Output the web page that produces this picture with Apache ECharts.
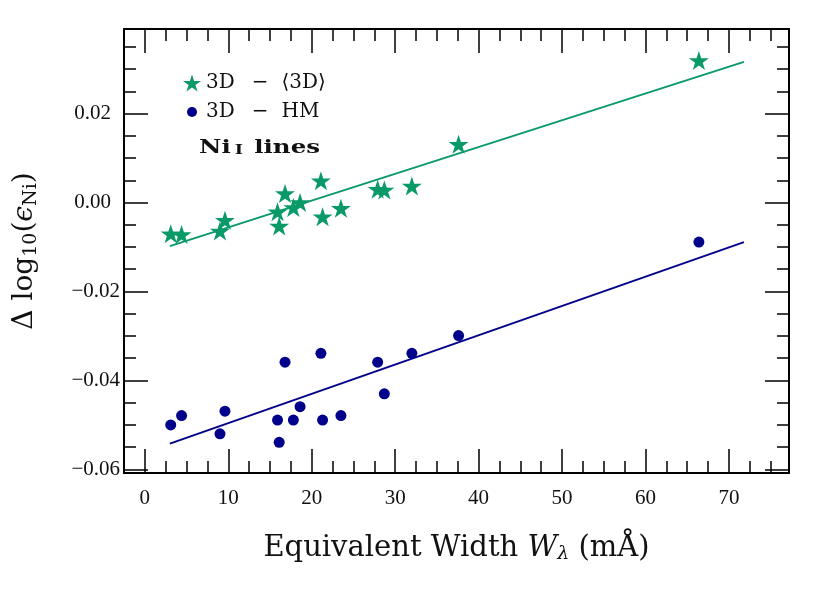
<!DOCTYPE html>
<html>
<head>
<meta charset="utf-8">
<script src="https://cdn.jsdelivr.net/npm/echarts@6/dist/echarts.min.js"></script>
<style>
  html, body { margin: 0; padding: 0; background: #fff; }
  #chart { width: 830px; height: 593px; }
</style>
</head>
<body>
<div id="chart"></div>
<script>
// equivalent width of each Ni I line (mA)
const ew = [3.1, 4.4, 9.0, 9.6, 15.9, 16.1, 16.8, 17.8, 18.6, 21.1, 21.3, 23.5, 27.9, 28.7, 32.0, 37.6, 66.4];
// 3D - <3D>
const dMean = [-0.0070, -0.0072, -0.0064, -0.0040, -0.0021, -0.0053, 0.0020, -0.0011, 0.0000, 0.0049, -0.0032, -0.0013, 0.0030, 0.0028, 0.0037, 0.0131, 0.0319];
// 3D - HM
const dHM = [-0.0500, -0.0479, -0.0520, -0.0469, -0.0489, -0.0539, -0.0359, -0.0489, -0.0459, -0.0339, -0.0489, -0.0479, -0.0359, -0.0430, -0.0339, -0.0299, -0.0089];
// linear fits (end points)
const fitX = [3.0, 71.8];
const fitMean = [-0.0098, 0.0316];
const fitHM = [-0.0542, -0.0089];

const xMajor = [0, 10, 20, 30, 40, 50, 60, 70];
const xMinor = [2.5, 5, 7.5, 12.5, 15, 17.5, 22.5, 25, 27.5, 32.5, 35, 37.5, 42.5, 45, 47.5, 52.5, 55, 57.5, 62.5, 65, 67.5, 72.5, 75];
const yMajor = [-0.06, -0.04, -0.02, 0, 0.02];
const yMinor = [-0.055, -0.05, -0.045, -0.035, -0.03, -0.025, -0.015, -0.01, -0.005, 0.005, 0.01, 0.015, 0.025, 0.03, 0.035];

const nameMean = '3D \u2212 \u27e83D\u27e9';
const nameHM = '3D \u2212 HM';

const green = '#0a9a68';
const blue = '#00008b';
const serif = '"Liberation Serif", serif';
const wide = '"DejaVu Serif", serif';
const star = 'path://M0,-1L0.2245,-0.309L0.9511,-0.309L0.3633,0.118L0.5878,0.809L0,0.382L-0.5878,0.809L-0.3633,0.118L-0.9511,-0.309L-0.2245,-0.309Z';

const zip = (xs, ys) => xs.map((x, i) => [x, ys[i]]);

function xAx(pos, ticks, len, line, labels) {
  return {
    type: 'value', position: pos, min: -2.5, max: 77.2,
    axisLine: { show: line, onZero: false, lineStyle: { color: '#000', width: 2 } },
    axisTick: { show: true, inside: true, length: len, customValues: ticks, lineStyle: { color: '#000', width: 1.5 } },
    axisLabel: labels ? {
      customValues: xMajor, margin: 15, color: '#111', fontFamily: serif, fontSize: 21
    } : { show: false },
    splitLine: { show: false }
  };
}
function yAx(pos, ticks, len, line, labels) {
  return {
    type: 'value', position: pos, min: -0.0608, max: 0.039,
    axisLine: { show: line, onZero: false, lineStyle: { color: '#000', width: 2 } },
    axisTick: { show: true, inside: true, length: len, customValues: ticks, lineStyle: { color: '#000', width: 1.5 } },
    axisLabel: labels ? {
      customValues: yMajor, margin: 4, color: '#111', fontFamily: serif, fontSize: 21,
      formatter: v => {
        const s = Math.abs(v).toFixed(2);
        return v < -1e-9 ? '\u2212' + s : '{p|' + s + '}';
      },
      rich: { p: { padding: [0, 9, 0, 0], fontFamily: serif, fontSize: 21, color: '#111' } }
    } : { show: false },
    splitLine: { show: false }
  };
}

const xAxes = [
  xAx('bottom', xMajor, 24, true, true),
  xAx('bottom', xMinor, 12, false, false),
  xAx('top', xMajor, 24, true, false),
  xAx('top', xMinor, 12, false, false)
];
xAxes[0].name = '{t|Equivalent Width }{i|W}{s|\u03bb}{t| (m\u00c5)}';
xAxes[0].nameLocation = 'middle';
xAxes[0].nameGap = 59;
xAxes[0].nameTextStyle = {
  rich: {
    t: { fontFamily: wide, fontSize: 29, color: '#111' },
    i: { fontFamily: wide, fontSize: 29, fontStyle: 'italic', color: '#111' },
    s: { fontFamily: wide, fontSize: 19, fontStyle: 'italic', color: '#111', padding: [13, 0, 0, 0] }
  }
};

const yAxes = [
  yAx('left', yMajor, 24, true, true),
  yAx('left', yMinor, 12, false, false),
  yAx('right', yMajor, 24, true, false),
  yAx('right', yMinor, 12, false, false)
];
yAxes[0].name = '{t|\u0394 log}{s|10}{t|(}{i|\u03f5}{s|Ni}{t|)}';
yAxes[0].nameLocation = 'middle';
yAxes[0].nameRotate = 90;
yAxes[0].nameGap = 83;
yAxes[0].nameTextStyle = {
  rich: {
    t: { fontFamily: wide, fontSize: 28, color: '#111' },
    i: { fontFamily: wide, fontSize: 28, fontStyle: 'italic', color: '#111' },
    s: { fontFamily: wide, fontSize: 19, color: '#111', padding: [13, 0, 0, 0] }
  }
};

function legendText(lead) {
  return {
    fontFamily: wide, fontSize: 20, color: '#111', lineHeight: 20,
    rich: {
      f: { fontFamily: wide, fontSize: 20, color: '#111', padding: [0, 0, 0, lead] },
      a: { fontFamily: wide, fontSize: 20, color: '#111' },
      m: { fontFamily: wide, fontSize: 20, color: '#111', padding: [0, 13, 0, 17] }
    }
  };
}
const legendFmt = name => {
  const parts = name.split(' \u2212 ');
  return '{f|' + parts[0] + '}{m|\u2212}{a|' + parts[1] + '}';
};

const chart = echarts.init(document.getElementById('chart'), null, { renderer: 'canvas' });
chart.setOption({
  animation: false,
  backgroundColor: '#fff',
  grid: { left: 124, top: 29, width: 665, height: 444, containLabel: false, outerBoundsMode: 'none' },
  graphic: [{
    type: 'text', x: 199, y: 148, scaleX: 1.36,
    style: {
      text: '{b|Ni}{c|I}{b| lines}',
      align: 'left', verticalAlign: 'middle',
      rich: {
        b: { fontFamily: wide, fontSize: 18, fontWeight: 'bold', fill: '#111' },
        c: { fontFamily: wide, fontSize: 13, fontWeight: 'bold', fill: '#111', padding: [5, 2, 0, 3] }
      }
    }
  }],
  legend: [
    {
      left: 183, top: 73, padding: 0, orient: 'vertical',
      itemWidth: 18, itemHeight: 18,
      data: [{ name: nameMean, icon: star }],
      formatter: legendFmt,
      textStyle: legendText(0)
    },
    {
      left: 187, top: 102, padding: 0, orient: 'vertical',
      itemWidth: 10, itemHeight: 10,
      data: [{ name: nameHM, icon: 'circle' }],
      formatter: legendFmt,
      textStyle: legendText(4)
    }
  ],
  xAxis: xAxes,
  yAxis: yAxes,
  series: [
    {
      name: 'fitMean', type: 'line', data: zip(fitX, fitMean), showSymbol: false,
      lineStyle: { color: green, width: 2 }, silent: true
    },
    {
      name: 'fitHM', type: 'line', data: zip(fitX, fitHM), showSymbol: false,
      lineStyle: { color: blue, width: 2 }, silent: true
    },
    {
      name: nameMean, type: 'scatter', data: zip(ew, dMean),
      symbol: star, symbolSize: 20, symbolKeepAspect: true,
      itemStyle: { color: green, opacity: 1 }
    },
    {
      name: nameHM, type: 'scatter', data: zip(ew, dHM),
      symbol: 'circle', symbolSize: 11,
      itemStyle: { color: blue, opacity: 1 }
    }
  ]
});
</script>
</body>
</html>
